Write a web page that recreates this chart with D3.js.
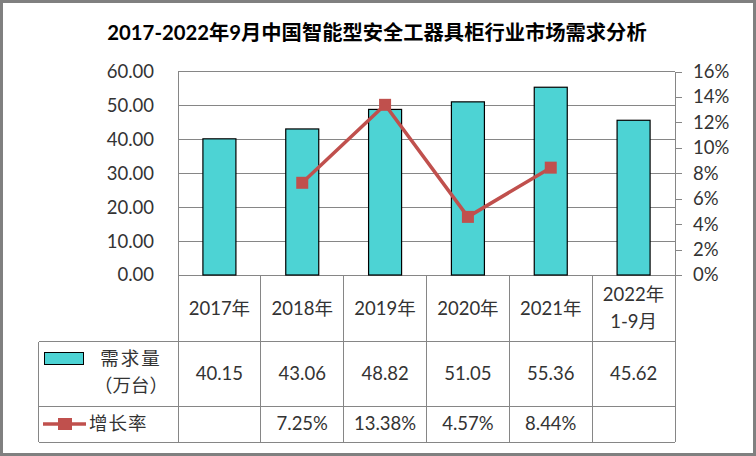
<!DOCTYPE html>
<html><head><meta charset="utf-8">
<script src="https://cdn.jsdelivr.net/npm/d3@7"></script>
<style>
body{margin:0;background:#fff;}
text{font-family:Lato,"Noto Sans CJK SC",sans-serif;}
</style></head>
<body>
<svg id="c" width="756" height="456"></svg>
<script>
const categories = ["2017年","2018年","2019年","2020年","2021年","2022年\n1-9月"];
const demand = [40.15, 43.06, 48.82, 51.05, 55.36, 45.62];
const growth = [null, 7.25, 13.38, 4.57, 8.44, null];
const leftTicks = [0,10,20,30,40,50,60];
const rightTicks = [0,2,4,6,8,10,12,14,16];
const title = "2017-2022年9月中国智能型安全工器具柜行业市场需求分析";
const seriesNames = ["需求量\n（万台）","增长率"];

const svg = d3.select("#c");
const W=756,H=456;
const L=178,R=675,T=71.5,B=275;
const textColor="#333333", gridColor="#868686";
const barColor="#4DD3D4", lineColor="#C0504D";
const FS=18.5;

svg.append("rect").attr("x",1.5).attr("y",1.5).attr("width",W-3).attr("height",H-3)
  .attr("fill","#fff").attr("stroke","#808080").attr("stroke-width",3);

svg.append("text").attr("x",377).attr("y",40).attr("text-anchor","middle")
  .attr("font-size",20.3).attr("font-weight","bold").attr("fill","#000").text(title);

const x = d3.scaleBand().domain(categories).range([L,R]);
const yL = d3.scaleLinear().domain([0,60]).range([B,T]);
const yR = d3.scaleLinear().domain([0,16]).range([B,T]);

// grid
svg.append("g").selectAll("line").data(leftTicks).join("line")
  .attr("x1",L).attr("x2",R).attr("y1",d=>yL(d)).attr("y2",d=>yL(d))
  .attr("stroke",gridColor).attr("stroke-width",1).attr("shape-rendering","crispEdges");

// left axis
const la = svg.append("g").attr("transform",`translate(${L},0)`)
  .call(d3.axisLeft(yL).tickValues(leftTicks).tickFormat(d3.format(".2f")).tickSize(0).tickPadding(24));
la.select(".domain").attr("stroke",gridColor).attr("shape-rendering","crispEdges");
la.selectAll("text").attr("font-size",FS).attr("fill",textColor).style("font-family","Lato,sans-serif");

// right axis
const ra = svg.append("g").attr("transform",`translate(${R},0)`)
  .call(d3.axisRight(yR).tickValues(rightTicks).tickFormat(d=>d+"%").tickSize(7).tickPadding(11));
ra.select(".domain").attr("stroke",gridColor).attr("shape-rendering","crispEdges");
ra.selectAll("line").attr("stroke",gridColor).attr("shape-rendering","crispEdges");
ra.selectAll("text").attr("font-size",FS).attr("fill",textColor).style("font-family","Lato,sans-serif");

// bars
const bw = 33;
svg.append("g").selectAll("rect").data(demand).join("rect")
  .attr("x",(d,i)=>x(categories[i])+x.bandwidth()/2-bw/2)
  .attr("y",d=>yL(d)).attr("width",bw).attr("height",d=>B-yL(d))
  .attr("fill",barColor).attr("stroke","#000").attr("stroke-width",1.2);

// line
const pts = growth.map((g,i)=>({g,c:categories[i]})).filter(p=>p.g!==null);
svg.append("path").datum(pts)
  .attr("d",d3.line().x(p=>x(p.c)+x.bandwidth()/2).y(p=>yR(p.g)))
  .attr("fill","none").attr("stroke",lineColor).attr("stroke-width",3.5).attr("stroke-linejoin","round");
svg.append("g").selectAll("rect").data(pts).join("rect")
  .attr("x",p=>x(p.c)+x.bandwidth()/2-6).attr("y",p=>yR(p.g)-6)
  .attr("width",12).attr("height",12).attr("fill",lineColor);

// table
const tL=38.5, r1=B, r2=341.5, r3=406, r4=442;
const tg = svg.append("g").attr("stroke",gridColor).attr("stroke-width",1).attr("shape-rendering","crispEdges");
tg.append("line").attr("x1",tL).attr("x2",R).attr("y1",r2).attr("y2",r2);
tg.append("line").attr("x1",tL).attr("x2",R).attr("y1",r3).attr("y2",r3);
tg.append("line").attr("x1",tL).attr("x2",R).attr("y1",r4).attr("y2",r4);
tg.append("line").attr("x1",tL).attr("x2",tL).attr("y1",r2).attr("y2",r4);
const vx = categories.map(c=>x(c)).concat([R]);
tg.selectAll(".v").data(vx).join("line").attr("class","v")
  .attr("x1",d=>d).attr("x2",d=>d).attr("y1",r1).attr("y2",r4);

// header text
categories.forEach((c,i)=>{
  const lines=c.split("\n");
  const cx=x(c)+x.bandwidth()/2;
  const t=svg.append("text").attr("text-anchor","middle").attr("font-size",FS).attr("fill",textColor);
  if(lines.length===1){
    t.append("tspan").attr("x",cx).attr("y",315).text(lines[0]);
  } else {
    t.append("tspan").attr("x",cx).attr("y",301).text(lines[0]);
    t.append("tspan").attr("x",cx).attr("y",328).text(lines[1]);
  }
});
// values
demand.forEach((d,i)=>{
  svg.append("text").attr("x",x(categories[i])+x.bandwidth()/2).attr("y",380)
    .attr("text-anchor","middle").attr("font-size",FS).attr("fill",textColor).text(d3.format(".2f")(d));
});
growth.forEach((g,i)=>{
  if(g===null) return;
  svg.append("text").attr("x",x(categories[i])+x.bandwidth()/2).attr("y",430)
    .attr("text-anchor","middle").attr("font-size",FS).attr("fill",textColor).text(d3.format(".2f")(g)+"%");
});
// legend keys
svg.append("rect").attr("x",44.5).attr("y",352.5).attr("width",39).attr("height",12)
  .attr("fill",barColor).attr("stroke","#000").attr("stroke-width",1);
const n1 = seriesNames[0].split("\n");
svg.append("text").attr("x",131).attr("y",365).attr("text-anchor","middle").attr("font-size",FS).attr("letter-spacing",2).attr("fill",textColor).text(n1[0]);
svg.append("text").attr("x",131).attr("y",392).attr("text-anchor","middle").attr("font-size",FS).attr("fill",textColor).text(n1[1]);
svg.append("line").attr("x1",43).attr("x2",86).attr("y1",424).attr("y2",424).attr("stroke",lineColor).attr("stroke-width",3.5);
svg.append("rect").attr("x",58).attr("y",418).attr("width",14).attr("height",12).attr("fill",lineColor);
svg.append("text").attr("x",89).attr("y",430).attr("font-size",FS).attr("letter-spacing",1).attr("fill",textColor).text(seriesNames[1]);
</script>
</body></html>
